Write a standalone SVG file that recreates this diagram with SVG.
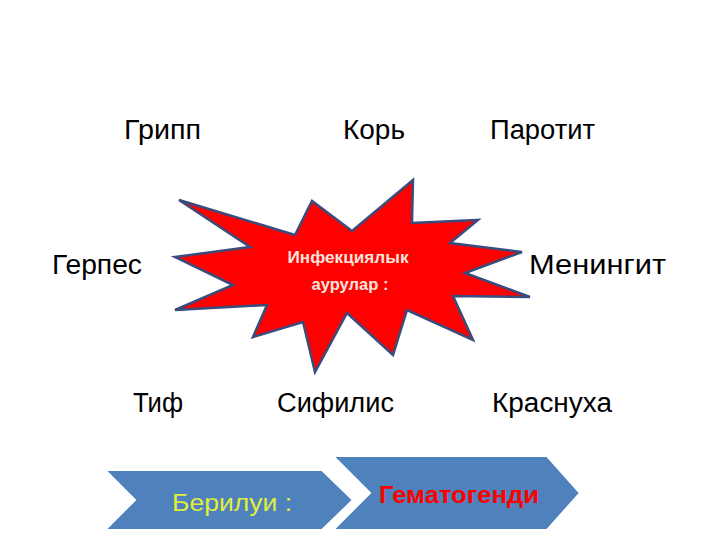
<svg xmlns="http://www.w3.org/2000/svg" width="720" height="540" viewBox="0 0 720 540">
<style>
.lbl{font-family:"Liberation Sans",Arial,sans-serif;font-size:27px;fill:#000}
.star{fill:#FF0000;stroke:#3A4C7C;stroke-width:2.5;stroke-linejoin:miter}
.chev{fill:#4F81BD;stroke:#FFFFFF;stroke-width:2}
.st{font-family:"Liberation Sans",Arial,sans-serif;font-weight:bold;font-size:16px;fill:#F6E4DC}
</style>
<rect width="720" height="540" fill="#FFFFFF"/>
<g id="center">
<polygon class="star" points="179,200 295,235 312,201 352,231 413,180 412,223 478,220 450,243 522,252 465,273 530,297 453,296 473,340 407,310 393,355 347,313 315,372 303,322 253,337 267,305 175,310 233,285 175,257 250,247"/>
<text class="st" x="348" y="263" text-anchor="middle" textLength="121" lengthAdjust="spacingAndGlyphs">Инфекциялык</text>
<text class="st" x="350" y="290" text-anchor="middle" textLength="77" lengthAdjust="spacingAndGlyphs">аурулар :</text>
</g>
<g id="gripp"><text class="lbl" x="124" y="139" textLength="77" lengthAdjust="spacingAndGlyphs">Грипп</text></g>
<g id="kor"><text class="lbl" x="343" y="139" textLength="62" lengthAdjust="spacingAndGlyphs">Корь</text></g>
<g id="parotit"><text class="lbl" x="490" y="139" textLength="105" lengthAdjust="spacingAndGlyphs">Паротит</text></g>
<g id="gerpes"><text class="lbl" x="52" y="274" textLength="90" lengthAdjust="spacingAndGlyphs">Герпес</text></g>
<g id="meningit"><text class="lbl" x="529" y="274" textLength="137" lengthAdjust="spacingAndGlyphs">Менингит</text></g>
<g id="tif"><text class="lbl" x="133" y="412" textLength="50" lengthAdjust="spacingAndGlyphs">Тиф</text></g>
<g id="sifilis"><text class="lbl" x="277" y="412" textLength="117" lengthAdjust="spacingAndGlyphs">Сифилис</text></g>
<g id="krasnukha"><text class="lbl" x="492" y="412" textLength="120" lengthAdjust="spacingAndGlyphs">Краснуха</text></g>
<g id="berilui">
<polygon class="chev" points="105,470 322,470 353,500 322,530 105,530 135,500"/>
<text x="172" y="511" font-family="Liberation Sans,Arial,sans-serif" font-size="23" fill="#E2EE3C" textLength="120" lengthAdjust="spacingAndGlyphs">Берилуи :</text>
</g>
<g id="gematogendi">
<polygon class="chev" points="333,456 547,456 580,493 547,530 333,530 370,493"/>
<text x="379" y="503" font-family="Liberation Sans,Arial,sans-serif" font-weight="bold" font-size="24" fill="#FF0000" textLength="160" lengthAdjust="spacingAndGlyphs">Гематогенди</text>
</g>
<g id="connectors"></g>
</svg>
